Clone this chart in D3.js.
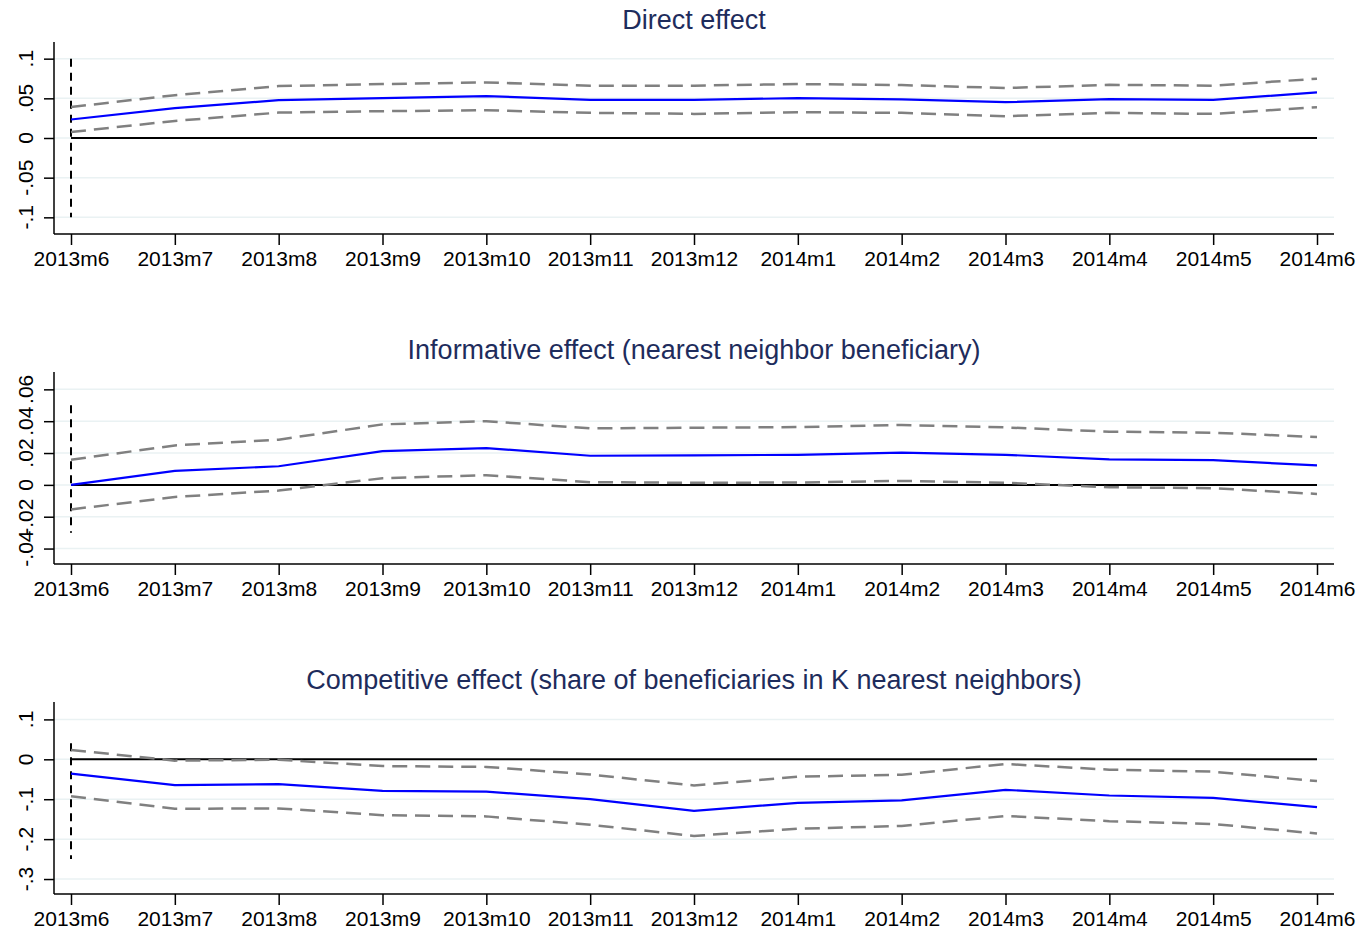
<!DOCTYPE html>
<html>
<head>
<meta charset="utf-8">
<script src="https://cdn.jsdelivr.net/npm/d3@7"></script>
<style>
  body { margin: 0; background: #fff; }
  text { font-family: "Liberation Sans", Arial, sans-serif; }
</style>
</head>
<body>
<div class="chart"></div>
<script>
// months on the x axis
var months = ["2013m6","2013m7","2013m8","2013m9","2013m10","2013m11","2013m12",
              "2014m1","2014m2","2014m3","2014m4","2014m5","2014m6"];

// direct effect: estimate + 95% bounds
var directEst = [0.0233, 0.0376, 0.0477, 0.0502, 0.0528, 0.0481, 0.0481, 0.0502, 0.0486, 0.0452, 0.0490, 0.0481, 0.0574];
var directHi  = [0.0390, 0.0540, 0.0654, 0.0680, 0.0700, 0.0660, 0.0660, 0.0680, 0.0667, 0.0630, 0.0670, 0.0660, 0.0747];
var directLo  = [0.0076, 0.0215, 0.0320, 0.0338, 0.0350, 0.0317, 0.0304, 0.0325, 0.0317, 0.0275, 0.0317, 0.0304, 0.0389];

// informative effect (nearest neighbor beneficiary)
var infoEst = [0.0000, 0.0088, 0.0117, 0.0212, 0.0231, 0.0183, 0.0185, 0.0189, 0.0202, 0.0189, 0.0160, 0.0155, 0.0122];
var infoHi  = [0.0158, 0.0248, 0.0284, 0.0380, 0.0400, 0.0355, 0.0359, 0.0363, 0.0376, 0.0361, 0.0334, 0.0328, 0.0300];
var infoLo  = [-0.0154, -0.0076, -0.0036, 0.0042, 0.0061, 0.0017, 0.0013, 0.0015, 0.0025, 0.0013, -0.0015, -0.0021, -0.0057];

// competitive effect (share of beneficiaries in K nearest neighbors)
var compEst = [-0.036, -0.0647, -0.062, -0.079, -0.081, -0.100, -0.129, -0.109, -0.103, -0.0765, -0.0907, -0.0966, -0.120];
var compHi  = [0.0235, -0.0033, -0.001, -0.017, -0.019, -0.038, -0.0655, -0.0437, -0.0386, -0.0118, -0.026, -0.031, -0.0546];
var compLo  = [-0.0924, -0.124, -0.123, -0.140, -0.143, -0.164, -0.192, -0.174, -0.167, -0.142, -0.155, -0.162, -0.186];

var titles = ["Direct effect",
              "Informative effect (nearest neighbor beneficiary)",
              "Competitive effect (share of beneficiaries in K nearest neighbors)"];

var directTicks = [-0.1, -0.05, 0, 0.05, 0.1];
var directTickLabels = ["-.1", "-.05", "0", ".05", ".1"];
var infoTicks = [-0.04, -0.02, 0, 0.02, 0.04, 0.06];
var infoTickLabels = ["-.04", "-.02", "0", ".02", ".04", ".06"];
var compTicks = [-0.3, -0.2, -0.1, 0, 0.1];
var compTickLabels = ["-.3", "-.2", "-.1", "0", ".1"];

// y-range of the dashed reference line at 2013m6
var directVline = [-0.1, 0.1];
var infoVline = [-0.03, 0.05];
var compVline = [-0.25, 0.04];

var directDomain = [-0.121, 0.121];
var infoDomain = [-0.0497, 0.0709];
var compDomain = [-0.3375, 0.1436];

var panels = [
  {title: titles[0], est: directEst, lo: directLo, hi: directHi, ticks: directTicks, labels: directTickLabels, vline: directVline, domain: directDomain},
  {title: titles[1], est: infoEst, lo: infoLo, hi: infoHi, ticks: infoTicks, labels: infoTickLabels, vline: infoVline, domain: infoDomain},
  {title: titles[2], est: compEst, lo: compLo, hi: compHi, ticks: compTicks, labels: compTickLabels, vline: compVline, domain: compDomain}
];

var W = 1364, H = 937;
var left = 54, right = 1334, panelTop = 42, panelH = 192, step = 330;

var svg = d3.select(".chart")
  .append("svg")
    .attr("width", W)
    .attr("height", H);

var x = d3.scalePoint()
  .domain(months)
  .range([71, 1317]);

panels.forEach(function(p, i) {
  var top = panelTop + i * step, bottom = top + panelH;
  var g = svg.append("g");

  var y = d3.scaleLinear()
    .domain(p.domain)
    .range([bottom, top]);

  // gridlines
  g.selectAll(".grid")
    .data(p.ticks)
    .enter().append("line")
      .attr("x1", left).attr("x2", right)
      .attr("y1", function(d) { return y(d); })
      .attr("y2", function(d) { return y(d); })
      .attr("stroke", "#eaf2f3")
      .attr("stroke-width", 1.5);

  // title
  g.append("text")
    .attr("x", 694)
    .attr("y", top - 13)
    .attr("text-anchor", "middle")
    .attr("font-size", 27)
    .attr("fill", "#1e2c5c")
    .text(p.title);

  // y axis
  var yAxis = d3.axisLeft(y)
    .tickValues(p.ticks)
    .tickSize(10)
    .tickFormat("");
  var ga = g.append("g")
    .attr("transform", "translate(" + left + ",0)")
    .call(yAxis);
  ga.select(".domain").remove();
  ga.selectAll(".tick line").attr("stroke", "#000").attr("stroke-width", 1.5);

  g.selectAll(".ylab")
    .data(p.ticks)
    .enter().append("text")
      .attr("transform", function(d) { return "translate(33," + y(d) + ") rotate(-90)"; })
      .attr("text-anchor", "middle")
      .attr("font-size", 21)
      .attr("fill", "#000")
      .text(function(d, k) { return p.labels[k]; });

  g.append("line")
    .attr("x1", left).attr("x2", left)
    .attr("y1", top).attr("y2", bottom)
    .attr("stroke", "#000").attr("stroke-width", 1.5);

  // x axis
  var xAxis = d3.axisBottom(x).tickSize(11).tickPadding(6);
  var gx = g.append("g")
    .attr("transform", "translate(0," + bottom + ")")
    .call(xAxis);
  gx.select(".domain").remove();
  gx.selectAll(".tick line").attr("stroke", "#000").attr("stroke-width", 1.5);
  gx.selectAll(".tick text")
    .attr("font-size", 21)
    .attr("fill", "#000")
    .attr("font-family", "Liberation Sans, Arial, sans-serif");

  g.append("line")
    .attr("x1", left).attr("x2", right)
    .attr("y1", bottom).attr("y2", bottom)
    .attr("stroke", "#000").attr("stroke-width", 1.5);

  // zero line
  g.append("line")
    .attr("x1", x(months[0])).attr("x2", x(months[months.length - 1]))
    .attr("y1", y(0)).attr("y2", y(0))
    .attr("stroke", "#000").attr("stroke-width", 2);

  // vertical dashed line
  g.append("line")
    .attr("x1", x(months[0])).attr("x2", x(months[0]))
    .attr("y1", y(p.vline[1])).attr("y2", y(p.vline[0]))
    .attr("stroke", "#000").attr("stroke-width", 2)
    .attr("stroke-dasharray", "8,6");

  var line = d3.line()
    .x(function(d, k) { return x(months[k]); })
    .y(function(d) { return y(d); });

  [p.hi, p.lo].forEach(function(s) {
    g.append("path")
      .datum(s)
      .attr("d", line)
      .attr("fill", "none")
      .attr("stroke", "#808080")
      .attr("stroke-width", 2.5)
      .attr("stroke-dasharray", "15,8");
  });

  g.append("path")
    .datum(p.est)
    .attr("d", line)
    .attr("fill", "none")
    .attr("stroke", "#0000ff")
    .attr("stroke-width", 2.2);
});
</script>
</body>
</html>
